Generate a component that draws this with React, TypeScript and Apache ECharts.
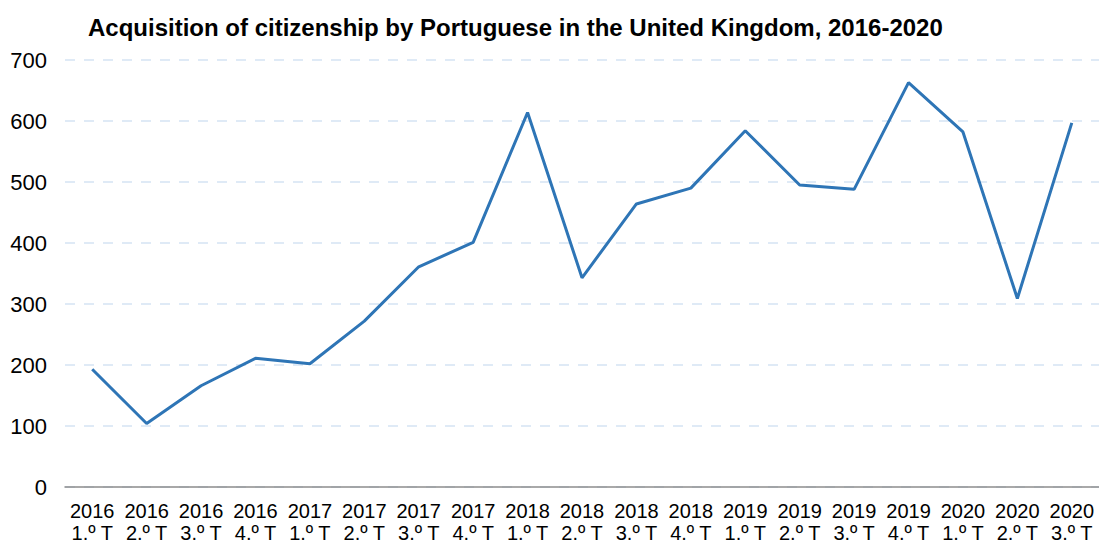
import React, { useEffect, useRef } from "react";
import * as echarts from "echarts";

const title = "Acquisition of citizenship by Portuguese in the United Kingdom, 2016-2020";
const years = ["2016", "2016", "2016", "2016", "2017", "2017", "2017", "2017", "2018", "2018", "2018", "2018", "2019", "2019", "2019", "2019", "2020", "2020", "2020"];
const quarters = ["1.º T", "2.º T", "3.º T", "4.º T", "1.º T", "2.º T", "3.º T", "4.º T", "1.º T", "2.º T", "3.º T", "4.º T", "1.º T", "2.º T", "3.º T", "4.º T", "1.º T", "2.º T", "3.º T"];
const values = [193, 104, 166, 211, 202, 272, 361, 401, 614, 343, 464, 490, 584, 495, 488, 663, 582, 309, 597];
const yTicks = [0, 100, 200, 300, 400, 500, 600, 700];

export default function App() {
  const ref = useRef<HTMLDivElement>(null);
  useEffect(() => {
    if (!ref.current) return;
    const chart = echarts.init(ref.current, null, { renderer: "svg" });
    const categories = years.map((y, i) => `${y}\n${quarters[i]}`);
    chart.setOption({
      animation: false,
      backgroundColor: "#ffffff",
      textStyle: { fontFamily: "Liberation Sans, Arial, sans-serif" },
      title: {
        text: title,
        left: 83,
        top: 10,
        textStyle: { fontSize: 24, fontWeight: "bold", color: "#000000", fontFamily: "Liberation Sans, Arial, sans-serif" },
      },
      grid: { left: 65, right: 0, top: 60, bottom: 59, containLabel: false },
      xAxis: {
        type: "category",
        data: categories,
        boundaryGap: true,
        axisLine: { show: true, lineStyle: { color: "#8c8c8c", width: 1.5 } },
        axisTick: { show: false },
        axisLabel: {
          interval: 0,
          color: "#000000",
          fontSize: 20,
          lineHeight: 22,
          margin: 13,
          fontFamily: "Liberation Sans, Arial, sans-serif",
        },
      },
      yAxis: {
        type: "value",
        min: yTicks[0],
        max: yTicks[yTicks.length - 1],
        interval: 100,
        axisLine: { show: false },
        axisTick: { show: false },
        axisLabel: {
          color: "#000000",
          fontSize: 22,
          margin: 18,
          fontFamily: "Liberation Sans, Arial, sans-serif",
        },
        splitLine: {
          show: true,
          lineStyle: { color: "#d5e4f4", width: 1.5, type: [10, 9] },
        },
      },
      series: [
        {
          type: "line",
          data: values,
          symbol: "none",
          lineStyle: { color: "#2e75b6", width: 3 },
          z: 3,
        },
      ],
    });
    return () => chart.dispose();
  }, []);
  return (
    <div
      ref={ref}
      style={{ position: "fixed", left: 0, top: 0, width: 1099, height: 546 }}
    />
  );
}
